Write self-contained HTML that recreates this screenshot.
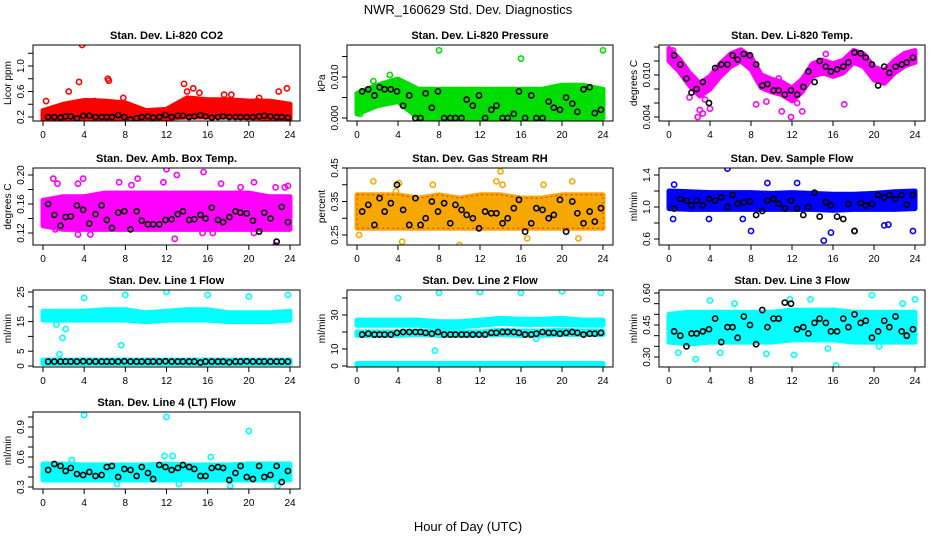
<!DOCTYPE html>
<html><head><meta charset="utf-8"><style>
body{margin:0;background:#fff;}
svg{display:block;font-family:"Liberation Sans",sans-serif;}
</style></head><body>
<svg id="chart" width="936" height="540" viewBox="0 0 936 540" xmlns="http://www.w3.org/2000/svg">
<text x="468" y="14" font-size="13" text-anchor="middle">NWR_160629  Std. Dev. Diagnostics</text>
<text x="468" y="531" font-size="13" text-anchor="middle">Hour of Day (UTC)</text>
</svg>
<script>
const HRS = [0,2,4,6,8,10,12,14,16,18,20,22,24];
const HRS25 = [0,1,2,3,4,5,6,7,8,9,10,11,12,13,14,15,16,17,18,19,20,21,22,23,24];
const blkHours = [0.5,1.1,1.7,2.2,2.7,3.3,3.9,4.5,5.1,5.7,6.2,6.7,7.3,7.9,8.5,9.1,9.6,10.2,10.7,11.3,11.9,12.5,13.1,13.6,14.2,14.7,15.3,15.8,16.4,17.0,17.5,18.1,18.7,19.2,19.8,20.4,21.0,21.5,22.1,22.7,23.2,23.8];

const p1Lo = [0.16,0.17,0.18,0.18,0.18,0.17,0.18,0.2,0.2,0.2,0.19,0.18,0.16];
const p1Hi = [0.3,0.4,0.46,0.45,0.42,0.3,0.32,0.5,0.47,0.47,0.45,0.45,0.4];
const p1OutX = [3.8,3.5,6.3,6.4,0.3,2.5,13.7,14,14.6,15.2,17.6,18.3,21,20.8,22.9,23.7,7.8,5];
const p1OutY = [1.33,0.75,0.8,0.77,0.45,0.6,0.72,0.6,0.65,0.58,0.55,0.55,0.5,0.45,0.6,0.65,0.5,0.45];
const p1Blk = [0.2,0.2,0.19,0.21,0.21,0.18,0.22,0.22,0.2,0.2,0.2,0.2,0.23,0.2,0.16,0.18,0.2,0.21,0.19,0.2,0.23,0.2,0.22,0.22,0.2,0.21,0.23,0.21,0.19,0.2,0.21,0.2,0.2,0.2,0.2,0.2,0.21,0.22,0.21,0.2,0.2,0.19];

const p2Lo = [0.001,0.003,0.004,0,0,0,0,0,0,0,0,0,0];
const p2Hi = [0.006,0.008,0.0095,0.007,0.007,0.007,0.007,0.007,0.007,0.007,0.008,0.008,0.007];
const p2OutX = [8,16,24,3.2,1.6,0.3];
const p2OutY = [0.0165,0.0145,0.0165,0.0105,0.009,0.001];
const p2Blk = [0.0065,0.007,0.0055,0.0075,0.007,0.007,0.0065,0.003,0.0055,0,0,0.006,0.0025,0.0065,0,0,0,0,0.0045,0.003,0.0055,0,0.002,0.003,0,0,0.001,0.0065,0,0.0055,0,0,0.004,0.0025,0.002,0.005,0.0035,0.0015,0.007,0.0075,0.0012,0.002];

const p3Lo = [0.012,0.0105,0.0085,0.007,0.008,0.0098,0.0112,0.012,0.0108,0.0082,0.0076,0.0072,0.0063,0.0076,0.0098,0.0103,0.0098,0.0103,0.0118,0.0112,0.0093,0.0088,0.0103,0.0113,0.0118];
const p3Hi = [0.0138,0.0123,0.0103,0.0088,0.0098,0.0116,0.013,0.0136,0.0126,0.01,0.0094,0.009,0.0081,0.0094,0.0116,0.0121,0.0116,0.0121,0.0135,0.013,0.0111,0.0106,0.0121,0.0131,0.0135];
const p3OutX = [2.8,3.3,3,4,11.9,11,13,17.1,8.5,0.4,15.3,10.7,5.5,2,3.5,9.5,12.5];
const p3OutY = [0.004,0.0045,0.005,0.0052,0.004,0.0048,0.0048,0.0058,0.0058,0.0135,0.013,0.0095,0.0115,0.0068,0.0065,0.0062,0.006];
const p3Blk = [0.0128,0.0115,0.0095,0.0075,0.008,0.009,0.006,0.011,0.0115,0.0115,0.0128,0.0122,0.013,0.0128,0.0115,0.0085,0.0087,0.0078,0.0078,0.0072,0.0078,0.0072,0.0083,0.0105,0.009,0.012,0.0112,0.0105,0.0108,0.0112,0.0118,0.0132,0.0131,0.0125,0.0115,0.0085,0.0112,0.0103,0.0112,0.0115,0.0118,0.0125];

const p4Lo = [0.13,0.125,0.125,0.125,0.125,0.125,0.125,0.125,0.125,0.125,0.125,0.125,0.125];
const p4Hi = [0.165,0.17,0.17,0.175,0.175,0.175,0.175,0.175,0.175,0.175,0.175,0.17,0.17];
const p4OutX = [1,1.4,3.4,3.9,7.4,8.6,9.2,11.7,12,13,15.6,17.3,19.2,20.5,22.6,23.5,23.8,12.8,22.6,3.4,4.6,1.2,15.5,16.5,20.5];
const p4OutY = [0.195,0.188,0.188,0.195,0.19,0.186,0.195,0.19,0.208,0.2,0.204,0.188,0.183,0.19,0.183,0.183,0.185,0.112,0.103,0.118,0.118,0.125,0.12,0.12,0.12];
const p4Blk = [0.16,0.145,0.13,0.142,0.143,0.158,0.152,0.133,0.146,0.158,0.138,0.127,0.148,0.15,0.125,0.15,0.137,0.132,0.132,0.132,0.138,0.139,0.146,0.15,0.138,0.139,0.145,0.14,0.155,0.138,0.135,0.142,0.15,0.148,0.147,0.137,0.122,0.148,0.14,0.108,0.156,0.135];

const p5Lo = [0.27,0.27,0.27,0.27,0.27,0.27,0.27,0.27,0.27,0.27,0.27,0.27,0.27];
const p5Hi = [0.37,0.37,0.37,0.36,0.37,0.36,0.37,0.37,0.36,0.36,0.37,0.37,0.37];
const p5OutX = [0.2,1.6,4.1,7.4,10,4.4,14,13.6,14.2,16.6,18.2,21,21.6,3.8];
const p5OutY = [0.25,0.41,0.405,0.4,0.22,0.23,0.44,0.41,0.4,0.24,0.4,0.41,0.24,0.38];
const p5Blk = [0.32,0.34,0.28,0.36,0.32,0.345,0.4,0.325,0.28,0.36,0.28,0.3,0.35,0.32,0.345,0.285,0.34,0.325,0.31,0.3,0.27,0.32,0.315,0.315,0.285,0.3,0.33,0.355,0.26,0.285,0.33,0.325,0.3,0.31,0.355,0.26,0.35,0.315,0.285,0.32,0.29,0.33];

const p6Lo = [0.98,0.97,0.97,0.97,0.97,0.97,0.97,0.97,0.96,0.97,0.97,0.97,0.98];
const p6Hi = [1.2,1.19,1.18,1.18,1.18,1.17,1.18,1.17,1.16,1.16,1.17,1.19,1.2];
const p6OutX = [5.7,0.5,8,15.1,18.1,23.8,15.8,12.5,9.6,0.4,3.9,7.2,21.4,21];
const p6OutY = [1.48,1.28,0.7,0.58,0.7,0.7,0.68,1.3,1.3,0.85,0.85,0.85,0.78,0.77];
const p6Blk = [0.98,1.1,1.08,1.02,1.08,1.02,1.1,1.08,1.12,1.0,1.15,1.04,1.06,1.07,0.9,0.95,1.08,1.1,1.04,0.98,1.08,0.98,0.9,1.0,1.18,0.88,1.06,1.02,0.88,0.85,1.04,0.7,1.05,1.02,1.04,1.15,1.12,1.15,1.1,1.15,1.03,1.15];

const p7UpLo = [15.5,15.5,15.5,15.5,15.5,15,15.5,15.5,15.5,15,15,15,15.5];
const p7UpHi = [18.5,18.5,18.5,19,19,18,18.5,19,19,18,18,18,18.5];
const p7BotLo = [0.8,0.8,0.8,0.8,0.8,0.8,0.8,0.8,0.8,0.8,0.8,0.8,0.8];
const p7BotHi = [2,2,2,2,2,2,2,2,2,2,2,2,2];
const p7OutX = [4,8,12,16,20,23.8,1.6,1.9,2.2,7.6,1.3];
const p7OutY = [23,24,25,24,23.5,24,4,9.5,12.5,7,14];
const p7Blk = [1.5,1.5,1.5,1.5,1.5,1.5,1.6,1.5,1.5,1.5,1.5,1.5,1.5,1.6,1.5,1.5,1.5,1.5,1.5,1.5,1.6,1.5,1.5,1.5,1.5,1.5,1.2,1.5,1.5,1.5,1.5,1.3,1.5,1.5,1.6,1.5,1.5,1.5,1.5,1.5,1.5,1.5];

const p8UpLo = [24,24,24,24,23,23,24,25,24.5,24.5,24.5,24,24];
const p8UpHi = [27,27,27,27,26,26,27,28,27.5,27.5,28,27,27];
const p8MidLo = [18,18,18,18.5,18,18,18,18.5,18,18,18.5,18.5,18.5];
const p8MidHi = [20,20,20,20.5,20,20,20,21,20.5,20.5,21,20.5,20.5];
const p8BotLo = [0,0,0,0,0,0,0,0,0,0,0,0,0];
const p8BotHi = [1.5,1.5,1.5,1.5,1.5,1.5,1.5,1.5,1.5,1.5,1.5,1.5,1.5];
const p8OutX = [4,8,12,16,20,23.8,7.6,17.5];
const p8OutY = [40,43,43.5,43,44,43,9,16];
const p8Blk = [18.5,19,18.5,18.5,18.5,18.5,19.5,20,20,20,20,19.5,19,20,18.5,18.5,18.5,18.5,18.5,18.5,18.5,18.5,19.5,19.5,20,20,20,19.5,18.5,18.5,19,20,19.5,19.5,19,19.5,20,19.5,18.5,19,19,19.5];

const p9Lo = [0.37,0.36,0.37,0.37,0.37,0.37,0.38,0.38,0.38,0.37,0.37,0.37,0.37];
const p9Hi = [0.5,0.51,0.51,0.51,0.51,0.51,0.52,0.52,0.52,0.51,0.51,0.51,0.51];
const p9OutX = [4,6.4,12.2,9.5,2.6,0.9,16.3,19.8,13.8,22.8,24,5,11.8,15.5,20.5];
const p9OutY = [0.565,0.55,0.31,0.315,0.29,0.32,0.26,0.59,0.57,0.55,0.57,0.32,0.57,0.34,0.35];
const p9Blk = [0.42,0.4,0.35,0.41,0.41,0.42,0.43,0.48,0.37,0.44,0.44,0.39,0.49,0.45,0.36,0.52,0.44,0.48,0.48,0.555,0.55,0.43,0.44,0.41,0.46,0.48,0.46,0.42,0.42,0.48,0.44,0.5,0.46,0.47,0.39,0.42,0.47,0.44,0.49,0.42,0.40,0.43];

const p10Lo = [0.37,0.37,0.37,0.37,0.37,0.37,0.37,0.37,0.37,0.37,0.37,0.37,0.37];
const p10Hi = [0.53,0.53,0.52,0.52,0.52,0.52,0.53,0.52,0.52,0.52,0.53,0.53,0.53];
const p10OutX = [4,12,20,11.8,12.6,16.3,18.2,22.8,7.2,13.2,2.8];
const p10OutY = [1.02,1.0,0.86,0.61,0.61,0.6,0.31,0.31,0.33,0.33,0.57];
const p10Blk = [0.47,0.53,0.51,0.46,0.49,0.43,0.42,0.45,0.41,0.42,0.5,0.51,0.4,0.48,0.47,0.41,0.5,0.44,0.38,0.52,0.5,0.47,0.49,0.52,0.5,0.48,0.41,0.41,0.49,0.5,0.49,0.37,0.44,0.51,0.4,0.38,0.51,0.4,0.42,0.51,0.35,0.46];

const panels = [
 {id:'co2',title:'Stan. Dev. Li-820 CO2',ylab:'Licor ppm',col:0,row:0,c:'#ff0000',t:[0.2,117,1.0,66],ticks:[0.2,0.4,0.6,0.8,1.0,1.2],labs:['0.2','','0.6','','1.0',''],bands:[[HRS,p1Lo,p1Hi]],ox:p1OutX,oy:p1OutY,blk:p1Blk},
 {id:'pressure',title:'Stan. Dev. Li-820 Pressure',ylab:'kPa',col:1,row:0,c:'#00dd00',t:[0,118,0.01,77],ticks:[0,0.005,0.01,0.015],labs:['0.000','','0.010',''],bands:[[HRS,p2Lo,p2Hi]],ox:p2OutX,oy:p2OutY,blk:p2Blk},
 {id:'temp',title:'Stan. Dev. Li-820 Temp.',ylab:'degrees C',col:2,row:0,c:'#ff00ff',t:[0.004,117,0.014,47],ticks:[0.004,0.006,0.008,0.01,0.012,0.014],labs:['0.004','','','0.010','',''],bands:[[HRS25,p3Lo,p3Hi]],ox:p3OutX,oy:p3OutY,blk:p3Blk},
 {id:'ambbox',title:'Stan. Dev. Amb. Box Temp.',ylab:'degrees C',col:0,row:1,c:'#ff00ff',t:[0.12,233,0.2,175],ticks:[0.12,0.14,0.16,0.18,0.2],labs:['0.12','','0.16','','0.20'],bands:[[HRS,p4Lo,p4Hi]],ox:p4OutX,oy:p4OutY,blk:p4Blk},
 {id:'rh',title:'Stan. Dev. Gas Stream RH',ylab:'percent',col:1,row:1,c:'#f7a800',t:[0.25,235,0.45,168],ticks:[0.25,0.3,0.35,0.4,0.45],labs:['0.25','','0.35','','0.45'],bands:[[HRS,p5Lo,p5Hi]],ox:p5OutX,oy:p5OutY,blk:p5Blk},
 {id:'sampleflow',title:'Stan. Dev. Sample Flow',ylab:'ml/min',col:2,row:1,c:'#0000ff',t:[0.6,239,1.4,175],ticks:[0.6,0.8,1.0,1.2,1.4],labs:['0.6','','1.0','','1.4'],bands:[[HRS,p6Lo,p6Hi]],ox:p6OutX,oy:p6OutY,blk:p6Blk},
 {id:'line1',title:'Stan. Dev. Line 1 Flow',ylab:'ml/min',col:0,row:2,c:'#00ffff',t:[0,366,25,292],ticks:[0,5,10,15,20,25],labs:['0','5','','15','','25'],bands:[[HRS,p7UpLo,p7UpHi],[HRS,p7BotLo,p7BotHi]],ox:p7OutX,oy:p7OutY,blk:p7Blk},
 {id:'line2',title:'Stan. Dev. Line 2 Flow',ylab:'ml/min',col:1,row:2,c:'#00ffff',t:[0,366,30,315],ticks:[0,10,20,30,40],labs:['0','10','','30',''],bands:[[HRS,p8UpLo,p8UpHi],[HRS,p8MidLo,p8MidHi],[HRS,p8BotLo,p8BotHi]],ox:p8OutX,oy:p8OutY,blk:p8Blk},
 {id:'line3',title:'Stan. Dev. Line 3 Flow',ylab:'ml/min',col:2,row:2,c:'#00ffff',t:[0.3,357,0.6,293],ticks:[0.3,0.35,0.4,0.45,0.5,0.55,0.6],labs:['0.30','','','0.45','','','0.60'],bands:[[HRS,p9Lo,p9Hi]],ox:p9OutX,oy:p9OutY,blk:p9Blk},
 {id:'line4',title:'Stan. Dev. Line 4 (LT) Flow',ylab:'ml/min',col:0,row:3,c:'#00ffff',t:[0.3,487,0.9,427],ticks:[0.3,0.4,0.5,0.6,0.7,0.8,0.9,1.0],labs:['0.3','','','0.6','','','0.9',''],bands:[[HRS,p10Lo,p10Hi]],ox:p10OutX,oy:p10OutY,blk:p10Blk}
];
const COLS=[[33,300],[347,613],[659,925]];
const ROWS=[[45,121],[168,245],[290,367],[412,489]];
const NS='http://www.w3.org/2000/svg';
const svg=document.getElementById('chart');
function mk(tag,attrs,parent){const e=document.createElementNS(NS,tag);for(const k in attrs)e.setAttribute(k,attrs[k]);(parent||svg).appendChild(e);return e;}
panels.forEach(p=>{
  const [x0,x1]=COLS[p.col],[y0,y1]=ROWS[p.row];
  const g=mk('g',{});
  
  
  const clip=mk('clipPath',{id:'cl-'+p.id},g);
  mk('rect',{x:x0,y:y0,width:x1-x0,height:y1-y0},clip);
  const xs=h=>x0+10+(h/24)*(x1-x0-20);
  const [v1,py1,v2,py2]=p.t;
  const ys=v=>py1+(v-v1)*(py2-py1)/(v2-v1);
  const plot=mk('g',{'clip-path':'url(#cl-'+p.id+')'},g);
  p.bands.forEach((b,bi)=>{
    const [hx,lo,hi]=b;
    let pts=hx.map((h,i)=>xs(h)+','+ys(hi[i]));
    pts=pts.concat(hx.map((h,i)=>xs(h)+','+ys(lo[i])).reverse());
    const pg=mk('polygon',{points:pts.join(' '),fill:p.c,stroke:p.c,'stroke-width':5,'stroke-linejoin':'round'},plot);
    
    
    if(p.id==='rh'){mk('polygon',{points:pts.join(' '),fill:'none',stroke:'#ff2000','stroke-width':1,'stroke-dasharray':'2 3'},plot);}
  });
  p.ox.forEach((h,i)=>{
    const c=mk('circle',{cx:xs(h),cy:ys(p.oy[i]),r:2.6,fill:'none',stroke:p.c,'stroke-width':1.6},plot);
    
    
  });
  p.blk.forEach((v,i)=>{
    const c=mk('circle',{cx:xs(blkHours[i]),cy:ys(v),r:2.6,fill:'none',stroke:'#000','stroke-width':1.6},plot);
    
    
  });
  const box=mk('rect',{x:x0,y:y0,width:x1-x0,height:y1-y0,fill:'none',stroke:'#000','stroke-width':1},g);
  
  
  const tt=mk('text',{x:(x0+x1)/2,y:y0-6,'font-size':11,'font-weight':'bold','text-anchor':'middle'},g);
  tt.textContent=p.title;
  
  
  for(let h=0;h<=24;h+=4){
    mk('line',{x1:xs(h),x2:xs(h),y1:y1,y2:y1+5,stroke:'#000'},g);
    const t=mk('text',{x:xs(h),y:y1+17,'font-size':10,'text-anchor':'middle'},g);
    t.textContent=h;
    
    
  }
  p.ticks.forEach((v,i)=>{
    const yy=ys(v);
    mk('line',{x1:x0-5,x2:x0,y1:yy,y2:yy,stroke:'#000'},g);
    if(p.labs[i]){
      const t=mk('text',{x:0,y:0,'font-size':10,'text-anchor':'middle',transform:`translate(${x0-9},${yy}) rotate(-90)`},g);
      t.textContent=p.labs[i];
      
      
    }
  });
  const yl=mk('text',{x:0,y:0,'font-size':10,'text-anchor':'middle',transform:`translate(${x0-22},${(y0+y1)/2}) rotate(-90)`},g);
  yl.textContent=p.ylab;
  
  
});
</script>
</body></html>
